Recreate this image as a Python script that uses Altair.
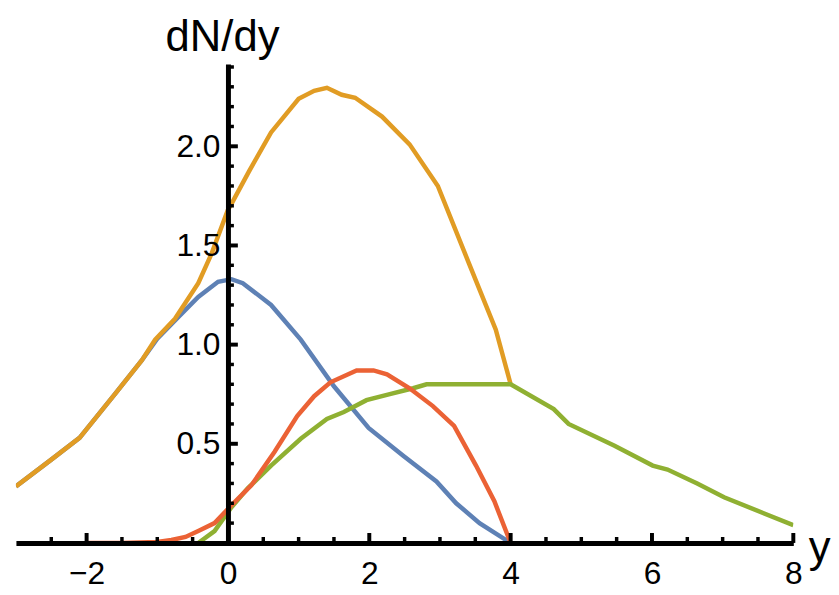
import altair as alt
import pandas as pd

# ---- data ----
blue_x = [-3.0, -2.5, -2.1, -1.6, -1.22, -1.0, -0.70, -0.42, -0.14, 0.05, 0.21, 0.61, 1.03, 1.50, 1.99, 2.48, 2.95, 3.23, 3.56, 4.0]
blue_y = [0.285, 0.42, 0.53, 0.75, 0.92, 1.03, 1.14, 1.24, 1.317, 1.33, 1.31, 1.20, 1.025, 0.79, 0.58, 0.44, 0.31, 0.20, 0.10, 0.0]

orange_x = [-3.0, -2.5, -2.1, -1.6, -1.22, -1.03, -0.75, -0.42, -0.23, 0.0, 0.05, 0.30, 0.61, 1.0, 1.22, 1.40, 1.61, 1.80, 2.18, 2.57, 2.97, 3.41, 3.79, 4.0]
orange_y = [0.285, 0.42, 0.53, 0.75, 0.92, 1.025, 1.13, 1.31, 1.46, 1.68, 1.71, 1.875, 2.07, 2.24, 2.28, 2.295, 2.26, 2.245, 2.15, 2.01, 1.80, 1.41, 1.075, 0.80]

green_x = [-0.42, -0.19, 0.05, 0.28, 0.61, 1.03, 1.40, 1.64, 1.96, 2.29, 2.62, 2.81, 4.0, 4.61, 4.82, 5.47, 6.01, 6.22, 6.64, 7.02, 8.0]
green_y = [0.0, 0.06, 0.18, 0.275, 0.39, 0.525, 0.625, 0.66, 0.72, 0.75, 0.78, 0.80, 0.80, 0.675, 0.60, 0.49, 0.39, 0.37, 0.30, 0.23, 0.09]

red_x = [-2.0, -1.5, -1.0, -0.8, -0.6, -0.42, -0.19, 0.05, 0.33, 0.66, 0.98, 1.22, 1.45, 1.82, 2.06, 2.25, 2.57, 2.90, 3.20, 3.51, 3.77, 4.0]
red_y = [0.0, 0.0, 0.005, 0.015, 0.03, 0.06, 0.10, 0.19, 0.29, 0.46, 0.64, 0.74, 0.81, 0.87, 0.87, 0.85, 0.78, 0.69, 0.59, 0.39, 0.21, 0.0]

x_labels = [-2, 0, 2, 4, 6, 8]
y_labels = [0.5, 1.0, 1.5, 2.0]
x_major = [-2, 2, 4, 6, 8]
x_minor = [-2.5, -1.5, -1.0, -0.5, 0.5, 1.0, 1.5, 2.5, 3.0, 3.5, 4.5, 5.0, 5.5, 6.5, 7.0, 7.5]
y_major = [0.5, 1.0, 1.5, 2.0]
y_minor = [0.1, 0.2, 0.3, 0.4, 0.6, 0.7, 0.8, 0.9, 1.1, 1.2, 1.3, 1.4, 1.6, 1.7, 1.8, 1.9, 2.1, 2.2, 2.3, 2.4]

colors = {"blue": "#5E81B5", "orange": "#E19C24", "green": "#8FB032", "red": "#EB6235"}

FONT = "Liberation Sans"
W, H = 784, 483

x_scale = alt.Scale(domain=[-3, 8], nice=False, zero=False)
y_scale = alt.Scale(domain=[0, 2.415], nice=False, zero=False)

x_axis = alt.Axis(
    values=x_labels, format="d", ticks=False, tickSize=0, grid=False,
    domainWidth=5, domainColor="black", domainCap="butt",
    labelFont=FONT, labelFontSize=32, labelColor="black", labelPadding=16,
    labelFlush=False, labelOverlap=False,
    title="y", titleFont=FONT, titleFontSize=44, titleFontWeight="normal",
    titleColor="black", titleAlign="left", titleBaseline="alphabetic",
    titleX=799, titleY=19, zindex=1,
)
y_axis = alt.Axis(
    values=y_labels, format=".1f", ticks=False, tickSize=0, grid=False,
    offset=-(3 / 11) * W,
    domainWidth=5, domainColor="black", domainCap="butt",
    labelFont=FONT, labelFontSize=32, labelColor="black", labelPadding=8,
    labelFlush=False, labelOverlap=False,
    title="dN/dy", titleFont=FONT, titleFontSize=44, titleFontWeight="normal",
    titleColor="black", titleAngle=0, titleAlign="center", titleBaseline="alphabetic",
    titleX=-6, titleY=-14, zindex=1,
)


def series_layer(xs, ys, name):
    df = pd.DataFrame({"x": xs, "y": ys})
    return alt.Chart(df).mark_line(color=colors[name], strokeWidth=4.5, clip=True).encode(
        x=alt.X("x:Q", scale=x_scale, axis=x_axis),
        y=alt.Y("y:Q", scale=y_scale, axis=y_axis),
    )


blue = series_layer(blue_x, blue_y, "blue")
orange = series_layer(orange_x, orange_y, "orange")
green = series_layer(green_x, green_y, "green")
red = series_layer(red_x, red_y, "red")

yt_major = alt.Chart(pd.DataFrame({"v": y_major})).mark_rule(
    color="black", strokeWidth=4, x2Offset=10
).encode(
    x=alt.datum(0, scale=x_scale, axis=x_axis), x2=alt.datum(0),
    y=alt.Y("v:Q", scale=y_scale, axis=y_axis),
)
yt_minor = alt.Chart(pd.DataFrame({"v": y_minor})).mark_rule(
    color="black", strokeWidth=3.5, x2Offset=6
).encode(
    x=alt.datum(0, scale=x_scale, axis=x_axis), x2=alt.datum(0),
    y=alt.Y("v:Q", scale=y_scale, axis=y_axis),
)
xt_major = alt.Chart(pd.DataFrame({"v": x_major})).mark_rule(
    color="black", strokeWidth=4, y2Offset=-10
).encode(
    y=alt.datum(0, scale=y_scale, axis=y_axis), y2=alt.datum(0),
    x=alt.X("v:Q", scale=x_scale, axis=x_axis),
)
xt_minor = alt.Chart(pd.DataFrame({"v": x_minor})).mark_rule(
    color="black", strokeWidth=3.5, y2Offset=-6
).encode(
    y=alt.datum(0, scale=y_scale, axis=y_axis), y2=alt.datum(0),
    x=alt.X("v:Q", scale=x_scale, axis=x_axis),
)

chart = alt.layer(blue, orange, green, red, yt_major, yt_minor, xt_major, xt_minor).properties(
    width=W, height=H,
    autosize=alt.AutoSizeParams(type="none"),
    padding={"left": 8, "top": 54, "right": 38, "bottom": 48},
    background="white",
).configure_view(stroke=None)

chart.save("out.html", embed_options={"renderer": "svg", "actions": False})
